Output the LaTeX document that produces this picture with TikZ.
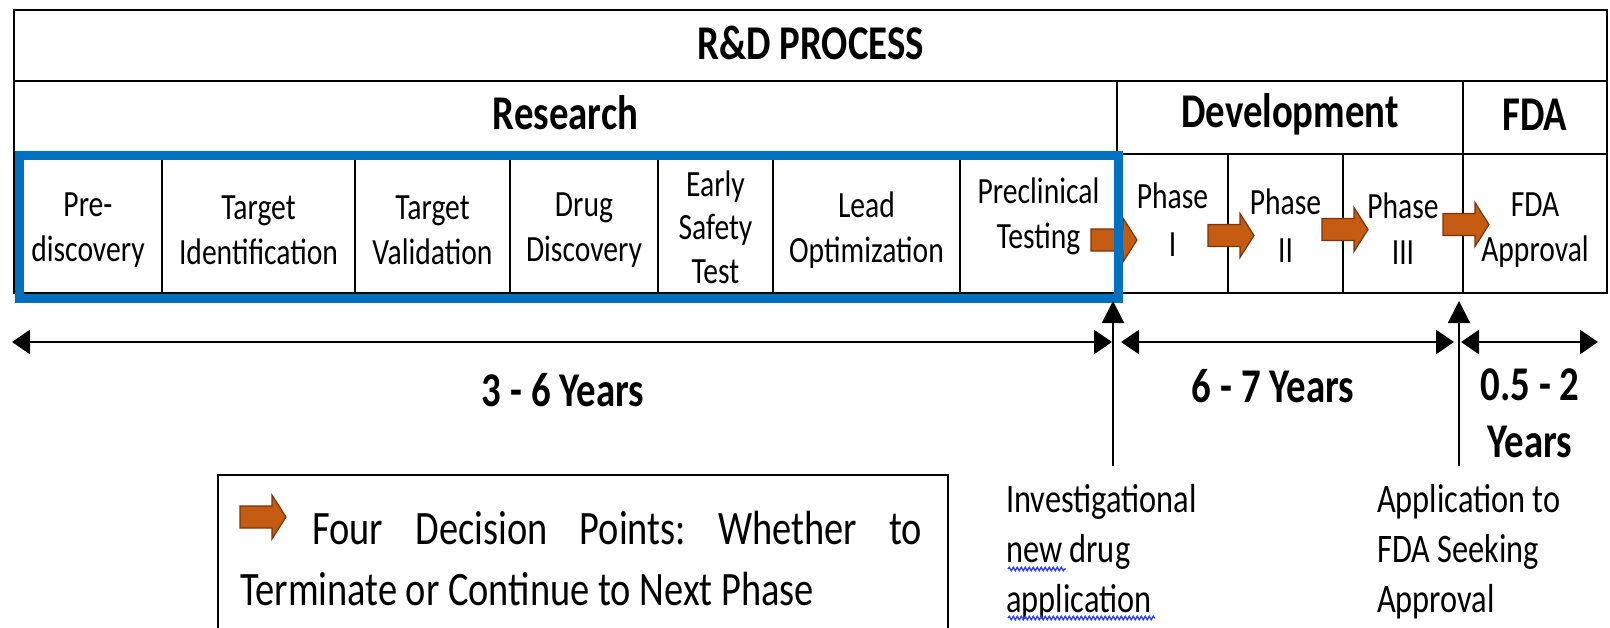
\documentclass[tikz,border=0pt]{standalone}
\usepackage{fontspec}
\setmainfont{Carlito}[FakeStretch=0.8]
\usetikzlibrary{arrows.meta,decorations.pathmorphing}
\definecolor{boxblue}{HTML}{0070C0}
\definecolor{decfill}{HTML}{C55A11}
\definecolor{decedge}{HTML}{7A3309}
\definecolor{spellblue}{HTML}{2E3CF0}
\frenchspacing
\begin{document}
\begin{tikzpicture}[x=1pt,y=-1pt,
  cellbox/.style={draw=black,line width=1.8pt,inner sep=0pt,outer sep=0pt},
  celltext/.style={inner sep=0pt,align=center,font=\fontsize{37pt}{45pt}\selectfont},
  phasetext/.style={inner sep=0pt,align=center,font=\fontsize{37pt}{48pt}\selectfont},
  headtext/.style={inner sep=0pt,align=center,font=\fontsize{48.5pt}{58pt}\selectfont\bfseries},
  dur/.style={inner sep=0pt,align=center,font=\fontsize{48.5pt}{57pt}\selectfont\bfseries},
  note/.style={inner sep=0pt,align=left,anchor=north west,font=\fontsize{40.5pt}{50pt}\selectfont},
  tline/.style={line width=2.6pt,{Triangle[length=18pt,width=24pt]}-{Triangle[length=18pt,width=24pt]}},
  vline/.style={line width=2pt,-{Triangle[length=22pt,width=22pt]}},
  spell/.style={draw=spellblue,line width=1.3pt,decorate,decoration={snake,amplitude=1.8pt,segment length=4pt}},
  decarrow/.pic={\draw[fill=decfill,draw=decedge,line width=1.2pt,line join=miter]
     (0,-11) -- (32,-11) -- (32,-22) -- (46,0) -- (32,22) -- (32,11) -- (0,11) -- cycle;}
]
\path[use as bounding box] (0,0) rectangle (1610,627);
\clip (0,0) rectangle (1610,627);

% header rows
\node[cellbox,minimum width=1593pt,minimum height=71pt] (title) at (810.5,45.5) {};
\node[cellbox,minimum width=1103pt,minimum height=73pt] (research) at (565.5,117.5) {};
\node[cellbox,minimum width=346pt,minimum height=73pt] (devel) at (1290,117.5) {};
\node[cellbox,minimum width=144pt,minimum height=73pt] (fda) at (1535,117.5) {};
\node[headtext] (title-t) at ([yshift=3pt]title.center) {R\&D PROCESS};
\node[headtext] (research-t) at ([yshift=5pt]research.center) {Research};
\node[headtext] (devel-t) at ([yshift=3pt]devel.center) {Development};
\node[headtext] (fda-t) at ([yshift=3pt]fda.center) {FDA};

% stage cells
\node[cellbox,minimum width=148pt,minimum height=139pt] (pre) at (88,223.5) {};
\node[cellbox,minimum width=193pt,minimum height=139pt] (tid) at (258.5,223.5) {};
\node[cellbox,minimum width=155pt,minimum height=139pt] (tval) at (432.5,223.5) {};
\node[cellbox,minimum width=148pt,minimum height=139pt] (drug) at (584,223.5) {};
\node[cellbox,minimum width=115pt,minimum height=139pt] (early) at (715.5,223.5) {};
\node[cellbox,minimum width=187pt,minimum height=139pt] (lead) at (866.5,223.5) {};
\node[cellbox,minimum width=157pt,minimum height=139pt] (prec) at (1038.5,223.5) {};
\node[cellbox,minimum width=111pt,minimum height=139pt] (ph1) at (1172.5,223.5) {};
\node[cellbox,minimum width=115pt,minimum height=139pt] (ph2) at (1285.5,223.5) {};
\node[cellbox,minimum width=120pt,minimum height=139pt] (ph3) at (1403,223.5) {};
\node[cellbox,minimum width=144pt,minimum height=139pt] (fdaap) at (1535,223.5) {};

\node[celltext] (pre-t) at ([yshift=-7pt]pre.center) {Pre-\\discovery};
\node[celltext] (tid-t) at ([yshift=-7pt]tid.center) {Target\\Identification};
\node[celltext] (tval-t) at ([yshift=-7pt]tval.center) {Target\\Validation};
\node[celltext] (drug-t) at ([yshift=-7pt]drug.center) {Drug\\Discovery};
\node[celltext,font=\fontsize{37pt}{43.5pt}\selectfont] (early-t) at ([yshift=-3.5pt]early.center) {Early\\Safety\\Test};
\node[celltext] (lead-t) at ([yshift=-7pt]lead.center) {Lead\\Optimization};
\node[celltext] (prec-t) at ([yshift=7pt]prec.center) {Preclinical\\Testing};
\node[phasetext] (ph1-t) at ([yshift=4pt]ph1.center) {Phase\\I};
\node[phasetext] (ph2-t) at ([yshift=-2pt]ph2.center) {Phase\\II};
\node[phasetext,font=\fontsize{37pt}{46pt}\selectfont] (ph3-t) at ([yshift=-5pt]ph3.center) {Phase\\III};
\node[celltext] (fdaap-t) at ([yshift=-7pt]fdaap.center) {FDA\\Approval};

% decision arrows
\pic at (1091,240) {decarrow};
\pic at (1208,235.5) {decarrow};
\pic at (1322,229.5) {decarrow};
\pic at (1443,224.5) {decarrow};

% research frame
\node[draw=boxblue,line width=9pt,inner sep=0pt,minimum width=1099.5pt,minimum height=143pt] (resbox) at (568.75,226.5) {};

% timeline
\coordinate (t0) at (12,342);
\coordinate (t1) at (1112,342);
\coordinate (t2) at (1121,342);
\coordinate (t3) at (1454,342);
\coordinate (t4) at (1461,342);
\coordinate (t5) at (1598,342);
\coordinate (indb) at (1113,466);
\coordinate (indt) at (1113,301);
\coordinate (ndab) at (1459,466);
\coordinate (ndat) at (1459,301);
\draw[tline] (t0) -- (t1);
\draw[tline] (t2) -- (t3);
\draw[tline] (t4) -- (t5);
\draw[vline] (indb) -- (indt);
\draw[vline] (ndab) -- (ndat);

\node[dur] (d1) at (563,390) {3 - 6 Years};
\node[dur] (d2) at (1273,386) {6 - 7 Years};
\node[dur] (d3) at (1530,413) {0.5 - 2\\Years};

\node[note] (indnote) at (1006,484) {Investigational\\new drug\\application};
\node[note] (ndanote) at (1377,484) {Application to\\FDA Seeking\\Approval};
\draw[spell] (1008,569) -- (1066,569);
\draw[spell] (1008,618) -- (1155,618);

% legend
\node[draw=black,line width=2pt,inner sep=0pt,anchor=north west,minimum width=730pt,minimum height=200pt] (legend) at (217,474) {};
\pic at (240,517) {decarrow};
\node[inner sep=0pt,anchor=north west,text width=682pt,align=justify,
      font=\fontsize{48pt}{61pt}\selectfont] (legtext) at (240,511)
  {\hspace*{72pt}Four Decision Points: Whether to\linebreak Terminate or Continue to Next Phase};
\end{tikzpicture}
\end{document}
